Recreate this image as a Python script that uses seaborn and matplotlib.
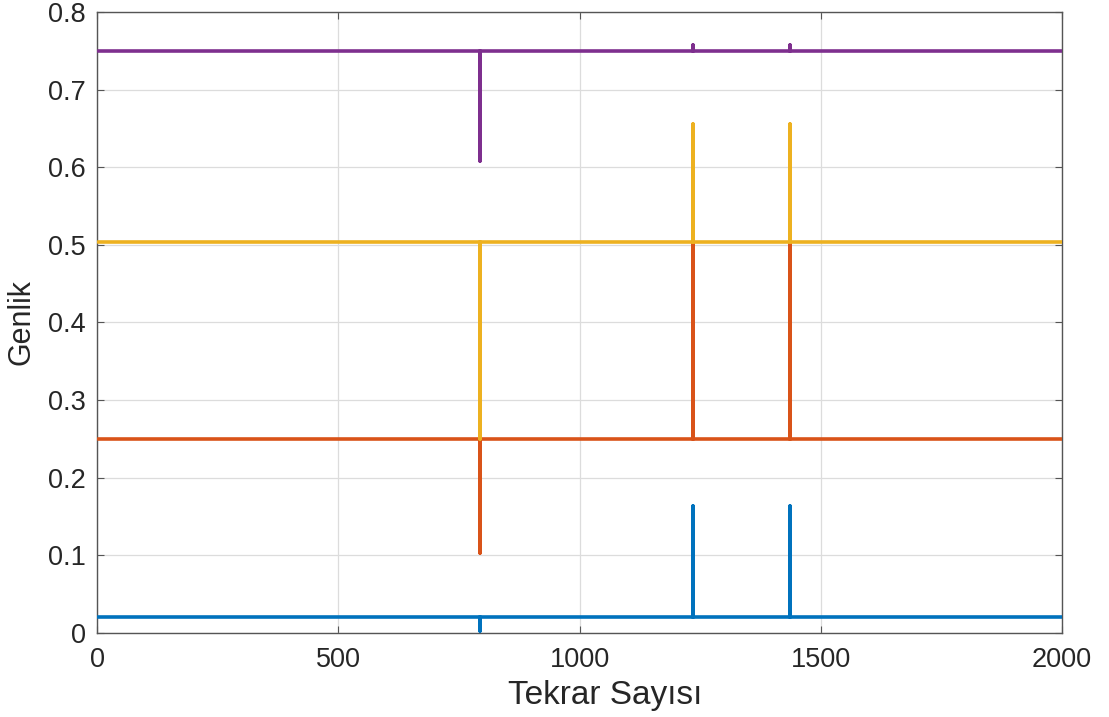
import numpy as np
import pandas as pd
import matplotlib
matplotlib.use("Agg")
import matplotlib.pyplot as plt
import seaborn as sns

# Breakpoints of each trace (iteration index and amplitude)
iteration = [1, 794, 794, 794, 1235, 1235, 1235, 1436, 1436, 1436, 2000]
series_1 = [0.020, 0.020, 0.003, 0.020, 0.020, 0.163, 0.020, 0.020, 0.163, 0.020, 0.020]
series_2 = [0.250, 0.250, 0.103, 0.250, 0.250, 0.504, 0.250, 0.250, 0.504, 0.250, 0.250]
series_3 = [0.504, 0.504, 0.250, 0.504, 0.504, 0.656, 0.504, 0.504, 0.656, 0.504, 0.504]
series_4 = [0.750, 0.750, 0.608, 0.750, 0.750, 0.757, 0.750, 0.750, 0.757, 0.750, 0.750]

colors = ["#0072BD", "#D95319", "#EDB120", "#7E2F8E"]
x_ticks = [0, 500, 1000, 1500, 2000]
y_ticks = [0, 0.1, 0.2, 0.3, 0.4, 0.5, 0.6, 0.7, 0.8]
y_tick_labels = ["0", "0.1", "0.2", "0.3", "0.4", "0.5", "0.6", "0.7", "0.8"]

sns.set_theme(style="white")
plt.rcParams["font.family"] = ["Liberation Sans", "DejaVu Sans"]

fig = plt.figure(figsize=(11.09, 7.17), dpi=100)
ax = fig.add_axes([0.0875, 0.1172, 0.8701, 0.8661])

for i, ys in enumerate([series_1, series_2, series_3, series_4]):
    df = pd.DataFrame({"x": iteration, "y": ys})
    sns.lineplot(data=df, x="x", y="y", ax=ax, color=colors[i], linewidth=2.6,
                 estimator=None, sort=False, zorder=3 + i)

ax.set_xlim(0, 2000)
ax.set_ylim(0, 0.8)
ax.set_xticks(x_ticks)
ax.set_xticklabels([str(t) for t in x_ticks])
ax.set_yticks(y_ticks)
ax.set_yticklabels(y_tick_labels)
ax.grid(True, color="#dcdcdc", linewidth=0.9)
ax.set_axisbelow(True)
for s in ax.spines.values():
    s.set_visible(True)
    s.set_color("#555555")
    s.set_linewidth(1.0)
ax.tick_params(axis="both", direction="in", length=5, width=0.8, colors="#555555",
               labelcolor="#262626", labelsize=19.5)
ax.tick_params(axis="x", pad=10)
ax.tick_params(axis="y", pad=8)
ax.tick_params(top=True, right=True, bottom=True, left=True)

ax.set_xlabel("Tekrar Sayısı", fontsize=24, color="#262626")
ax.xaxis.set_label_coords(0.527, -0.075)
ax.set_ylabel("Genlik", fontsize=22, color="#262626", labelpad=8)

fig.savefig("out.png", dpi=100)
